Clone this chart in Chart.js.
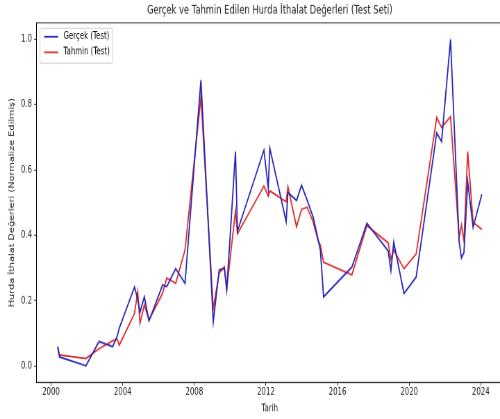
<!DOCTYPE html>
<html>
<head>
<meta charset="utf-8">
<script src="https://cdn.jsdelivr.net/npm/chart.js@4"></script>
<style>
  html, body { margin: 0; padding: 0; background: #fff; overflow: hidden; }
  /* the reference is a squeezed figure, so draw at figure size and scale down */
  #wrap { width: 730px; height: 432px; transform-origin: 0 0; transform: scale(0.69444, 0.96991); }
</style>
</head>
<body>
<div id="wrap"><canvas id="chart" width="730" height="432"></canvas></div>
<script>
// dates as decimal years
const tarih = [2000.37, 2000.47, 2001.95, 2002.68, 2003.44, 2003.70, 2003.81, 2004.66, 2004.84, 2004.97,
  2005.21, 2005.47, 2006.23, 2006.46, 2006.96, 2007.48, 2008.37, 2009.06, 2009.39, 2009.68,
  2009.81, 2010.30, 2010.41, 2011.89, 2012.13, 2012.22, 2013.13, 2013.23, 2013.71, 2013.99,
  2014.30, 2014.64, 2014.92, 2015.04, 2015.22, 2016.80, 2017.64, 2018.83, 2018.98, 2019.14,
  2019.71, 2020.39, 2021.54, 2021.81, 2022.31, 2022.79, 2022.92, 2023.06, 2023.27, 2023.57, 2024.06];
const gercek = [0.059, 0.028, 0.001, 0.075, 0.059, 0.092, 0.116, 0.242, 0.205, 0.165,
  0.212, 0.138, 0.248, 0.243, 0.298, 0.253, 0.875, 0.135, 0.294, 0.299,
  0.233, 0.656, 0.413, 0.661, 0.544, 0.666, 0.442, 0.531, 0.507, 0.553,
  0.508, 0.456, 0.386, 0.355, 0.212, 0.303, 0.437, 0.352, 0.292, 0.379,
  0.222, 0.272, 0.714, 0.687, 1.0, 0.380, 0.331, 0.347, 0.564, 0.425, 0.526];
const tahmin = [0.059, 0.034, 0.023, 0.053, 0.077, 0.082, 0.064, 0.161, 0.228, 0.131,
  0.187, 0.141, 0.223, 0.269, 0.253, 0.355, 0.823, 0.176, 0.284, 0.304,
  0.236, 0.476, 0.405, 0.551, 0.520, 0.536, 0.503, 0.549, 0.426, 0.480,
  0.486, 0.441, 0.383, 0.370, 0.318, 0.279, 0.430, 0.377, 0.327, 0.355,
  0.298, 0.343, 0.761, 0.730, 0.763, 0.393, 0.432, 0.383, 0.656, 0.440, 0.418];
const xTicks = [2000, 2004, 2008, 2012, 2016, 2020, 2024];
const yTicks = [0, 0.2, 0.4, 0.6, 0.8, 1.0];

const FONT = "'DejaVu Sans', sans-serif";
const TXT = "#222";

// plot frame on all four sides
const framePlugin = {
  id: "frame",
  afterDatasetsDraw(chart) {
    const { ctx, chartArea: a } = chart;
    ctx.save();
    ctx.strokeStyle = "#000";
    ctx.lineWidth = 0.8;
    ctx.strokeRect(a.left, a.top, a.right - a.left, a.bottom - a.top);
    ctx.restore();
  }
};

// matplotlib style legend box in the upper left
const legendPlugin = {
  id: "legendBox",
  afterDraw(chart) {
    const { ctx, chartArea: a } = chart;
    const sets = chart.data.datasets;
    ctx.save();
    ctx.font = "10px " + FONT;
    const textW = Math.max(...sets.map(d => ctx.measureText(d.label).width));
    const x0 = a.left + 5, y0 = a.top + 5.5;
    const w = 6 + 20 + 8 + textW + 4, h = 36;
    ctx.beginPath();
    ctx.roundRect(x0, y0, w, h, 2);
    ctx.fillStyle = "rgba(255,255,255,0.8)";
    ctx.fill();
    ctx.strokeStyle = "#ccc";
    ctx.lineWidth = 1;
    ctx.stroke();
    sets.forEach((d, i) => {
      const y = y0 + 8.6 + i * 16.1;
      ctx.beginPath();
      ctx.moveTo(x0 + 6, y);
      ctx.lineTo(x0 + 26, y);
      ctx.strokeStyle = d.borderColor;
      ctx.lineWidth = d.borderWidth;
      ctx.stroke();
      ctx.fillStyle = "#000";
      ctx.textBaseline = "middle";
      ctx.fillText(d.label, x0 + 34, y);
    });
    ctx.restore();
  }
};

const ctx = document.getElementById("chart").getContext("2d");
new Chart(ctx, {
  type: "line",
  data: {
    datasets: [
      {
        label: "Gerçek (Test)",
        data: tarih.map((t, i) => ({ x: t, y: gercek[i] })),
        borderColor: "#2626b8",
        backgroundColor: "#2626b8",
        borderWidth: 1.8,
        pointRadius: 0,
        tension: 0,
      },
      {
        label: "Tahmin (Test)",
        data: tarih.map((t, i) => ({ x: t, y: tahmin[i] })),
        borderColor: "#e02a2a",
        backgroundColor: "#e02a2a",
        borderWidth: 1.8,
        pointRadius: 0,
        tension: 0,
      },
    ],
  },
  options: {
    responsive: false,
    animation: false,
    devicePixelRatio: 1,
    layout: { padding: { left: 0, right: 5.7, top: 0, bottom: 0 } },
    plugins: {
      legend: { display: false },
      tooltip: { enabled: false },
      title: {
        display: true,
        text: "Gerçek ve Tahmin Edilen Hurda İthalat Değerleri (Test Seti)",
        fullSize: false,
        color: TXT,
        font: { family: FONT, size: 12, weight: "normal" },
        padding: { top: 4, bottom: 5.3 },
      },
    },
    scales: {
      x: {
        type: "linear",
        min: 1999.19,
        max: 2025.24,
        afterBuildTicks: (s) => { s.ticks = xTicks.map(v => ({ value: v })); },
        afterFit: (s) => { s.height = 37.8; },
        ticks: {
          autoSkip: false,
          maxRotation: 0,
          padding: 1,
          color: TXT,
          font: { family: FONT, size: 10 },
          callback: (v) => String(v),
        },
        grid: { display: true, drawOnChartArea: false, drawTicks: true, tickLength: 3.5, tickColor: "#000", tickWidth: 0.8 },
        border: { display: true, color: "#000", width: 0.8 },
        title: { display: true, text: "Tarih", color: TXT, font: { family: FONT, size: 10 }, padding: { top: 0, bottom: 5 } },
      },
      y: {
        min: -0.05,
        max: 1.05,
        afterBuildTicks: (s) => { s.ticks = yTicks.map(v => ({ value: v })); },
        afterFit: (s) => { s.width = 52.6; },
        ticks: {
          padding: 3,
          color: TXT,
          font: { family: FONT, size: 10 },
          callback: (v) => Number(v).toFixed(1),
        },
        grid: { display: true, drawOnChartArea: false, drawTicks: true, tickLength: 3.5, tickColor: "#000", tickWidth: 0.8 },
        border: { display: true, color: "#000", width: 0.8 },
        title: {
          display: true,
          text: "Hurda İthalat Değerleri (Normalize Edilmiş)",
          color: TXT,
          font: { family: FONT, size: 10 },
          padding: { top: 11, bottom: 0 },
        },
      },
    },
  },
  plugins: [framePlugin, legendPlugin],
});
</script>
</body>
</html>
